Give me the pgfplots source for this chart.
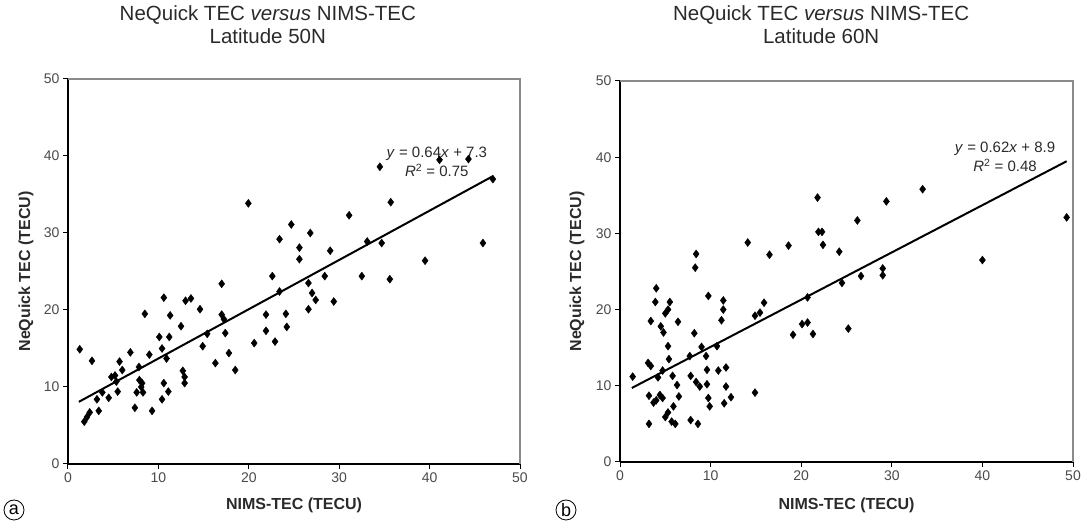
\documentclass[border=0pt]{standalone}
\usepackage{fontspec}
\setmainfont{Liberation Sans}
\usepackage{pgfplots}
\pgfplotsset{compat=1.18}
\definecolor{txt}{HTML}{2A2A2A}
\definecolor{tick}{HTML}{4A4A4A}
\definecolor{frame}{HTML}{8A8A8A}

% NeQuick TEC against NIMS-TEC, latitude 50N
\pgfplotstableread{
x y
1.3 14.9
2.65 13.4
1.8 5.5
2.1 6.1
2.4 6.7
3.4 6.9
3.2 8.4
3.8 9.3
4.5 8.6
4.8 11.3
5.2 11.5
5.7 13.3
6.0 12.2
5.35 10.7
5.5 9.4
6.9 14.5
7.85 12.6
7.9 10.9
8.2 10.5
8.1 10.0
7.6 9.3
8.3 9.3
7.4 7.3
8.5 19.5
9.0 14.2
9.3 6.9
10.1 16.5
10.6 21.6
11.3 19.3
11.2 16.5
10.4 15.0
10.9 13.7
10.6 10.5
11.1 9.4
10.4 8.4
12.5 17.9
12.7 12.1
12.9 11.3
12.9 10.5
13.0 21.2
13.6 21.5
14.6 20.1
14.9 15.3
15.4 16.9
16.3 13.1
17.0 23.4
17.0 19.4
17.25 18.8
17.4 17.0
17.8 14.4
18.5 12.2
19.95 33.85
20.6 15.7
21.9 19.4
21.9 17.3
22.9 15.9
22.6 24.4
23.4 22.4
23.4 29.2
24.1 19.5
24.2 17.8
24.7 31.1
25.6 28.1
25.6 26.6
26.6 23.5
26.6 20.1
26.8 30.0
27.0 22.2
27.4 21.3
28.4 24.4
29.0 27.7
29.4 21.1
31.1 32.3
32.5 24.4
33.1 28.9
34.5 38.6
34.7 28.7
35.6 24.0
35.7 34.0
39.5 26.4
41.1 39.5
44.3 39.6
45.9 28.7
47.0 37.0
}\latA

% NeQuick TEC against NIMS-TEC, latitude 60N
\pgfplotstableread{
x y
1.4 11.2
3.2 5.0
3.1 13.0
3.4 12.6
3.4 18.5
4.0 22.8
3.9 21.0
3.2 8.7
3.7 7.8
4.0 8.1
4.4 8.8
4.7 8.4
4.2 11.1
4.5 17.8
4.8 17.0
4.7 12.0
5.0 19.5
5.3 20.0
5.5 21.0
5.3 15.2
5.4 13.5
5.8 11.3
5.9 7.3
5.3 6.5
5.0 5.9
5.7 5.3
6.1 5.0
6.4 18.4
6.3 10.1
6.5 8.6
7.7 13.9
7.8 11.3
7.8 5.5
8.2 16.9
8.3 25.5
8.4 27.3
8.4 10.5
8.8 9.9
8.6 5.0
9.0 15.1
9.5 13.9
9.6 12.1
9.6 10.2
9.75 8.4
9.9 7.3
9.75 21.8
10.7 15.2
10.85 12.0
11.7 12.4
11.7 9.9
11.5 7.7
11.4 21.2
11.4 20.0
11.2 18.6
12.25 8.5
14.1 28.8
14.9 9.1
14.9 19.2
15.45 19.6
15.9 20.9
16.5 27.2
18.6 28.4
19.1 16.7
20.1 18.1
20.7 18.3
20.7 21.6
21.3 16.8
21.8 34.7
21.9 30.2
22.3 30.2
22.4 28.5
24.2 27.6
24.5 23.5
25.2 17.5
26.2 31.7
26.6 24.4
29.0 25.4
29.0 24.5
29.4 34.2
33.4 35.8
40.0 26.5
49.3 32.1
}\latB

\pgfplotsset{
  tecaxis/.style={
    scale only axis,
    xmin=0, xmax=50, ymin=0, ymax=50,
    xtick={0,10,...,50}, ytick={0,10,...,50},
    axis x line*=bottom, axis y line*=left,
    axis line style={black, line width=1.3pt, -},
    tick align=outside, major tick length=5pt,
    tick style={black, line width=1pt},
    /pgf/number format/assume math mode=true,
    tick label style={font=\fontsize{14}{16}\selectfont, text=tick},
    xlabel={NIMS-TEC (TECU)},
    ylabel={NeQuick TEC (TECU)},
    label style={font=\fontsize{16}{18}\selectfont\bfseries, text=txt},
    title style={font=\fontsize{20.5}{23}\selectfont, text=txt, align=center, anchor=center},
    clip=false,
  },
  pts/.style={only marks, mark=diamond*, mark size=4pt, black},
  fit/.style={black, line width=2pt, no marks},
}

\begin{document}
\begin{tikzpicture}
\useasboundingbox (0,0) rectangle (1082pt,524pt);

\begin{axis}[tecaxis,
  at={(68pt,60pt)}, anchor=south west,
  width=452pt, height=385pt,
  xlabel style={at={(axis description cs:0.5,-0.107)}, anchor=center},
  ylabel style={at={(axis description cs:-0.093,0.5)}, anchor=center},
  title style={at={(axis description cs:0.442,1.125)}},
  title={NeQuick TEC \emph{versus} NIMS-TEC\\Latitude 50N},
]
  \draw[frame, line width=1.1pt] (rel axis cs:0,1) -- (rel axis cs:1,1) -- (rel axis cs:1,0);
  \addplot[pts] table {\latA};
  \addplot[fit] coordinates {(1.2,8.07) (47,37.38)};
  \node[align=center, text=txt, font=\fontsize{15}{19}\selectfont]
    at (axis cs:40.8,39.2) {\emph{y} = 0.64\emph{x} + 7.3\\\emph{R}\textsuperscript{2} = 0.75};
\end{axis}

\begin{axis}[tecaxis,
  at={(620pt,62pt)}, anchor=south west,
  width=453pt, height=381pt,
  xlabel style={at={(axis description cs:0.5,-0.113)}, anchor=center},
  ylabel style={at={(axis description cs:-0.095,0.5)}, anchor=center},
  title style={at={(axis description cs:0.444,1.131)}},
  title={NeQuick TEC \emph{versus} NIMS-TEC\\Latitude 60N},
]
  \draw[frame, line width=1.1pt] (rel axis cs:0,1) -- (rel axis cs:1,1) -- (rel axis cs:1,0);
  \addplot[pts] table {\latB};
  \addplot[fit] coordinates {(1.3,9.71) (49.3,39.47)};
  \node[align=center, text=txt, font=\fontsize{15}{19}\selectfont]
    at (axis cs:42.5,40.0) {\emph{y} = 0.62\emph{x} + 8.9\\\emph{R}\textsuperscript{2} = 0.48};
\end{axis}

% panel letters
\node[circle, draw=black, line width=0.8pt, inner sep=0pt, minimum size=20pt,
      font=\fontsize{18}{18}\selectfont] at (14pt,14pt) {a};
\node[circle, draw=black, line width=0.8pt, inner sep=0pt, minimum size=20pt,
      font=\fontsize{18}{18}\selectfont] at (566pt,14pt) {b};
\end{tikzpicture}
\end{document}
